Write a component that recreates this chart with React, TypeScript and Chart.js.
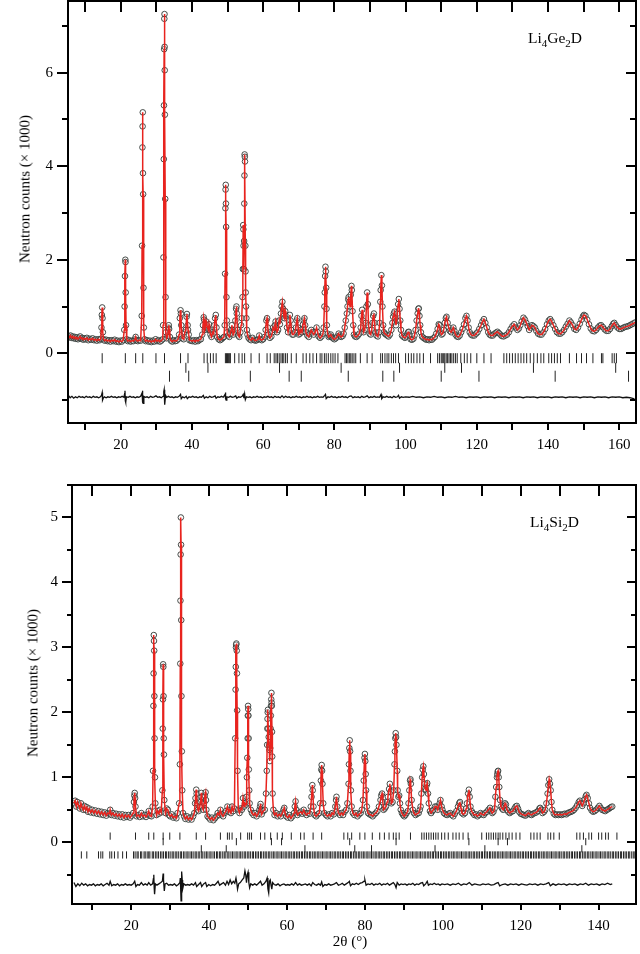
import React, { useEffect, useRef } from 'react';
import { Chart, registerables } from 'chart.js';

Chart.register(...registerables);

type P = [number, number];

// ---------------- Li4Ge2D (top panel) ----------------
const GE_OBS: P[] = [
  [5.3,0.37],[5.6,0.34],[5.9,0.38],[6.2,0.33],[6.5,0.36],[6.8,0.32],[7.1,0.35],[7.4,0.31],[7.7,0.34],[8.0,0.30],
  [8.3,0.33],[8.6,0.36],[8.9,0.31],[9.2,0.33],[9.5,0.29],[9.8,0.32],[10.1,0.30],[10.5,0.33],[10.9,0.28],[11.3,0.31],
  [11.7,0.29],[12.1,0.32],[12.5,0.28],[12.9,0.30],[13.3,0.27],[13.7,0.30],[14.1,0.28],[14.4,0.31],[14.6,0.55],[14.7,0.82],
  [14.8,0.98],[14.9,0.75],[15.0,0.45],[15.2,0.30],[15.5,0.27],[15.9,0.29],[16.3,0.26],[16.7,0.28],[17.1,0.25],[17.5,0.28],
  [17.9,0.26],[18.3,0.29],[18.7,0.25],[19.1,0.27],[19.5,0.24],[19.9,0.27],[20.3,0.25],[20.7,0.28],[21.0,0.5],[21.1,1.0],
  [21.2,1.65],[21.3,2.0],[21.35,1.95],[21.4,1.3],[21.5,0.6],[21.7,0.3],[22.0,0.26],[22.4,0.28],[22.8,0.25],[23.2,0.27],
  [23.6,0.26],[24.0,0.30],[24.2,0.35],[24.4,0.28],[24.8,0.26],[25.2,0.28],[25.6,0.27],[25.9,0.8],[26.0,2.3],[26.1,4.4],
  [26.15,4.85],[26.2,5.15],[26.25,3.85],[26.3,3.4],[26.4,1.4],[26.5,0.55],[26.7,0.3],[27.0,0.26],[27.4,0.28],[27.8,0.25],
  [28.2,0.27],[28.6,0.24],[29.0,0.27],[29.4,0.25],[29.8,0.30],[30.2,0.26],[30.6,0.28],[31.0,0.25],[31.4,0.27],[31.8,0.30],
  [31.9,0.6],[32.0,2.05],[32.1,4.15],[32.15,5.3],[32.2,6.5],[32.25,7.15],[32.3,7.25],[32.33,6.55],[32.36,6.05],[32.4,5.1],
  [32.5,3.3],[32.6,1.2],[32.7,0.45],[32.9,0.32],[33.2,0.38],[33.4,0.55],[33.5,0.6],[33.6,0.52],[33.8,0.35],[34.1,0.27],
  [34.5,0.25],[34.9,0.28],[35.3,0.26],[35.7,0.27],[36.1,0.30],[36.4,0.4],[36.6,0.75],[36.8,0.92],[36.9,0.85],[37.0,0.6],
  [37.3,0.32],[37.7,0.3],[38.0,0.45],[38.3,0.5],[38.5,0.78],[38.6,0.84],[38.8,0.6],[38.9,0.5],[39.1,0.4],[39.3,0.28],
  [39.7,0.27],[40.1,0.26],[40.5,0.28],[40.9,0.25],[41.3,0.28],[41.7,0.26],[42.1,0.29],[42.5,0.3],[42.9,0.4],[43.1,0.6],
  [43.3,0.77],[43.4,0.72],[43.6,0.5],[43.8,0.55],[44.0,0.68],[44.2,0.6],[44.4,0.55],[44.6,0.5],[44.8,0.62],[45.0,0.5],
  [45.2,0.4],[45.5,0.35],[45.8,0.45],[46.1,0.42],[46.3,0.6],[46.5,0.75],[46.7,0.82],[46.9,0.55],[47.1,0.35],[47.5,0.3],
  [47.9,0.28],[48.3,0.3],[48.7,0.33],[49.0,0.35],[49.2,0.6],[49.3,1.7],[49.4,3.1],[49.45,3.5],[49.5,3.6],[49.55,3.2],
  [49.6,2.7],[49.7,1.2],[49.8,0.7],[49.9,0.45],[50.2,0.38],[50.5,0.35],[50.8,0.42],[51.0,0.5],[51.2,0.6],[51.4,0.5],
  [51.6,0.4],[51.9,0.45],[52.2,0.7],[52.4,0.95],[52.5,1.0],[52.6,0.85],[52.8,0.5],[53.0,0.38],[53.3,0.35],[53.6,0.45],
  [53.8,0.6],[54.0,0.75],[54.2,1.2],[54.3,1.8],[54.4,2.74],[54.45,2.65],[54.5,2.3],[54.6,1.8],[54.65,2.4],[54.7,3.2],
  [54.75,3.8],[54.8,4.25],[54.85,4.2],[54.9,4.1],[55.0,2.3],[55.05,1.75],[55.1,1.3],[55.2,1.0],[55.3,0.75],[55.45,0.5],
  [55.6,0.4],[55.9,0.33],[56.2,0.3],[56.6,0.28],[57.0,0.33],[57.4,0.29],[57.8,0.27],[58.2,0.28],[58.6,0.3],[58.9,0.38],
  [59.2,0.3],[59.6,0.28],[60.0,0.3],[60.4,0.35],[60.7,0.5],[60.9,0.7],[61.1,0.75],[61.3,0.55],[61.5,0.4],[61.9,0.33],
  [62.3,0.36],[62.6,0.45],[62.8,0.55],[63.1,0.5],[63.3,0.6],[63.5,0.68],[63.7,0.55],[63.9,0.45],[64.2,0.5],[64.5,0.7],
  [64.7,0.62],[65.0,0.85],[65.2,1.0],[65.4,1.1],[65.6,0.95],[65.8,0.8],[66.0,0.75],[66.2,0.9],[66.4,0.8],[66.7,0.55],
  [67.0,0.45],[67.3,0.6],[67.5,0.82],[67.7,0.7],[67.9,0.5],[68.2,0.4],[68.5,0.4],[68.9,0.45],[69.2,0.55],[69.4,0.7],
  [69.6,0.75],[69.8,0.55],[70.0,0.4],[70.3,0.42],[70.6,0.5],[70.9,0.45],[71.2,0.62],[71.4,0.7],[71.6,0.75],[71.8,0.6],
  [72.0,0.45],[72.4,0.38],[72.8,0.35],[73.1,0.42],[73.5,0.5],[73.8,0.45],[74.2,0.4],[74.6,0.45],[75.0,0.55],[75.3,0.45],
  [75.6,0.36],[76.0,0.33],[76.4,0.36],[76.8,0.42],[77.0,0.55],[77.2,1.0],[77.3,1.3],[77.4,1.65],[77.5,1.85],[77.6,1.75],
  [77.7,1.4],[77.8,0.95],[77.9,0.6],[78.1,0.42],[78.4,0.35],[78.7,0.37],[79.0,0.4],[79.3,0.35],[79.6,0.32],[80.0,0.3],
  [80.4,0.32],[80.8,0.36],[81.2,0.42],[81.5,0.38],[81.9,0.35],[82.3,0.37],[82.6,0.42],[82.9,0.55],[83.2,0.7],[83.5,0.85],
  [83.7,1.0],[83.9,1.15],[84.0,1.2],[84.2,1.1],[84.4,1.0],[84.6,1.25],[84.8,1.44],[84.9,1.35],[85.1,0.9],[85.3,0.6],
  [85.5,0.4],[85.8,0.36],[86.2,0.35],[86.6,0.38],[87.0,0.42],[87.4,0.55],[87.6,0.8],[87.8,0.93],[88.0,0.7],[88.2,0.45],
  [88.5,0.5],[88.8,0.65],[89.0,1.0],[89.2,1.3],[89.4,1.05],[89.6,0.6],[89.9,0.42],[90.2,0.4],[90.5,0.5],[90.7,0.65],
  [90.9,0.8],[91.1,0.85],[91.3,0.65],[91.5,0.45],[91.8,0.38],[92.2,0.36],[92.5,0.45],[92.7,0.65],[92.9,1.1],[93.0,1.35],
  [93.2,1.67],[93.35,1.45],[93.5,1.0],[93.7,0.6],[93.9,0.45],[94.2,0.42],[94.5,0.4],[94.9,0.38],[95.2,0.36],[95.6,0.4],
  [96.0,0.5],[96.3,0.65],[96.5,0.78],[96.7,0.85],[96.9,0.89],[97.1,0.75],[97.3,0.6],[97.5,0.7],[97.7,0.85],[97.9,1.05],
  [98.1,1.16],[98.3,0.95],[98.5,0.7],[98.7,0.5],[99.0,0.38],[99.4,0.35],[99.8,0.33],[100.2,0.36],[100.5,0.42],[100.7,0.45],
  [100.9,0.46],[101.1,0.38],[101.4,0.3],[101.8,0.29],[102.2,0.31],[102.5,0.38],[102.8,0.5],[103.1,0.7],[103.4,0.85],[103.6,0.95],
  [103.7,0.96],[103.9,0.8],[104.1,0.6],[104.3,0.45],[104.6,0.36],[105.0,0.33],[105.4,0.31],[105.8,0.29],[106.2,0.3],[106.6,0.28],
  [107.0,0.3],[107.4,0.29],[107.8,0.32],[108.2,0.35],[108.6,0.42],[109.0,0.52],[109.3,0.62],[109.5,0.6],[109.8,0.45],[110.1,0.4],
  [110.4,0.42],[110.7,0.5],[111.0,0.65],[111.3,0.75],[111.5,0.78],[111.8,0.65],[112.1,0.55],[112.4,0.48],[112.8,0.45],[113.1,0.5],
  [113.4,0.55],[113.7,0.48],[114.0,0.4],[114.4,0.36],[114.8,0.35],[115.2,0.38],[115.6,0.45],[116.0,0.52],[116.4,0.62],[116.8,0.75],
  [117.1,0.8],[117.4,0.7],[117.7,0.55],[118.0,0.45],[118.4,0.4],[118.8,0.38],[119.3,0.38],[119.8,0.42],[120.2,0.45],[120.7,0.52],
  [121.2,0.6],[121.6,0.68],[122.0,0.73],[122.4,0.65],[122.8,0.55],[123.2,0.45],[123.6,0.4],[124.0,0.38],[124.5,0.38],[125.0,0.42],
  [125.4,0.44],[125.8,0.46],[126.2,0.43],[126.6,0.4],[127.0,0.37],[127.5,0.36],[128.0,0.38],[128.5,0.4],[129.0,0.45],[129.5,0.52],
  [130.0,0.58],[130.5,0.62],[131.0,0.55],[131.4,0.5],[131.8,0.53],[132.2,0.6],[132.6,0.68],[133.1,0.76],[133.5,0.72],[133.9,0.65],
  [134.3,0.58],[134.7,0.5],[135.1,0.55],[135.5,0.6],[135.9,0.58],[136.3,0.55],[136.7,0.48],[137.2,0.42],[137.7,0.4],[138.2,0.4],
  [138.7,0.45],[139.2,0.52],[139.7,0.62],[140.2,0.7],[140.6,0.73],[141.0,0.68],[141.5,0.6],[142.0,0.52],[142.5,0.45],[143.0,0.42],
  [143.5,0.42],[144.0,0.45],[144.5,0.5],[145.0,0.57],[145.5,0.63],[146.0,0.7],[146.4,0.66],[146.9,0.6],[147.4,0.52],[147.9,0.5],
  [148.4,0.55],[148.9,0.63],[149.4,0.72],[149.8,0.79],[150.1,0.82],[150.5,0.8],[151.0,0.72],[151.5,0.62],[152.0,0.53],[152.5,0.48],
  [153.0,0.47],[153.5,0.5],[154.0,0.55],[154.5,0.59],[154.9,0.6],[155.4,0.56],[155.9,0.51],[156.4,0.48],[156.9,0.48],[157.4,0.52],
  [157.9,0.58],[158.3,0.63],[158.6,0.65],[159.0,0.6],[159.5,0.55],[160.0,0.52],[160.5,0.52],[161.0,0.54],[161.5,0.56],[162.0,0.57],
  [162.5,0.58],[163.0,0.6],[163.5,0.62],[164.0,0.64],[164.5,0.66],
];

const GE_DIFF: P[] = [
  [5.3,-0.9],[5.8,-0.95],[6.3,-0.92],[6.8,-0.96],[7.3,-0.93],[7.8,-0.95],[8.3,-0.92],[8.8,-0.94],[9.3,-0.93],[9.8,-0.95],
  [10.3,-0.92],[10.8,-0.94],[11.3,-0.93],[11.8,-0.95],[12.3,-0.92],[12.8,-0.94],[13.3,-0.93],[13.8,-0.95],[14.3,-0.93],[14.6,-0.9],
  [14.8,-0.84],[14.9,-1.0],[15.1,-0.96],[15.4,-0.93],[15.9,-0.95],[16.4,-0.93],[16.9,-0.94],[17.4,-0.92],[17.9,-0.94],[18.4,-0.93],
  [18.9,-0.95],[19.4,-0.93],[19.9,-0.94],[20.4,-0.92],[20.9,-0.94],[21.1,-0.86],[21.2,-0.8],[21.3,-1.02],[21.4,-1.05],[21.6,-0.93],
  [22.1,-0.94],[22.6,-0.92],[23.1,-0.94],[23.6,-0.93],[24.1,-0.95],[24.6,-0.93],[25.1,-0.94],[25.6,-0.92],[26.0,-0.85],[26.1,-0.8],
  [26.2,-1.05],[26.3,-1.07],[26.5,-0.92],[26.9,-0.94],[27.4,-0.93],[27.9,-0.95],[28.4,-0.92],[28.9,-0.94],[29.4,-0.93],[29.9,-0.91],
  [30.4,-0.94],[30.9,-0.93],[31.4,-0.95],[31.9,-0.92],[32.1,-0.82],[32.2,-0.78],[32.3,-1.05],[32.4,-1.1],[32.6,-0.9],[32.9,-0.94],
  [33.4,-0.92],[33.9,-0.94],[34.4,-0.93],[34.9,-0.95],[35.4,-0.93],[35.9,-0.94],[36.4,-0.92],[36.8,-0.88],[37.0,-0.97],[37.4,-0.93],
  [37.9,-0.95],[38.4,-0.92],[38.7,-0.97],[39.2,-0.93],[39.7,-0.94],[40.2,-0.92],[40.7,-0.94],[41.2,-0.93],[41.7,-0.95],[42.2,-0.93],
  [42.7,-0.94],[43.2,-0.9],[43.5,-0.96],[44.0,-0.93],[44.5,-0.95],[45.0,-0.92],[45.5,-0.94],[46.0,-0.93],[46.5,-0.91],[46.8,-0.96],
  [47.3,-0.93],[47.8,-0.94],[48.3,-0.92],[48.8,-0.94],[49.3,-0.88],[49.4,-0.84],[49.5,-0.97],[49.6,-1.0],[49.8,-0.93],[50.3,-0.94],
  [50.8,-0.92],[51.3,-0.94],[51.8,-0.93],[52.3,-0.91],[52.6,-0.96],[53.1,-0.93],[53.6,-0.94],[54.1,-0.92],[54.4,-0.88],[54.6,-0.96],
  [54.8,-0.87],[55.0,-0.99],[55.3,-0.93],[55.8,-0.94],[56.3,-0.93],[56.8,-0.95],[57.3,-0.93],[57.8,-0.94],[58.3,-0.92],[58.8,-0.94],
  [59.3,-0.93],[59.8,-0.95],[60.3,-0.93],[60.8,-0.94],[61.3,-0.92],[61.8,-0.94],[62.3,-0.93],[62.8,-0.95],[63.3,-0.92],[63.8,-0.94],
  [64.3,-0.93],[64.8,-0.95],[65.3,-0.91],[65.8,-0.95],[66.3,-0.92],[66.8,-0.94],[67.3,-0.93],[67.8,-0.95],[68.3,-0.93],[68.8,-0.94],
  [69.3,-0.92],[69.8,-0.94],[70.3,-0.93],[70.8,-0.95],[71.3,-0.93],[71.8,-0.94],[72.3,-0.92],[72.8,-0.94],[73.3,-0.93],[73.8,-0.95],
  [74.3,-0.93],[74.8,-0.94],[75.3,-0.92],[75.8,-0.94],[76.3,-0.93],[76.8,-0.94],[77.3,-0.9],[77.5,-0.88],[77.7,-0.97],[78.2,-0.93],
  [78.7,-0.94],[79.2,-0.92],[79.7,-0.94],[80.2,-0.93],[80.7,-0.95],[81.2,-0.93],[81.7,-0.94],[82.2,-0.92],[82.7,-0.94],[83.2,-0.93],
  [83.7,-0.95],[84.2,-0.92],[84.7,-0.91],[85.2,-0.95],[85.7,-0.93],[86.2,-0.94],[86.7,-0.93],[87.2,-0.95],[87.7,-0.92],[88.2,-0.94],
  [88.7,-0.93],[89.2,-0.91],[89.7,-0.95],[90.2,-0.93],[90.7,-0.94],[91.2,-0.92],[91.7,-0.94],[92.2,-0.93],[92.7,-0.94],[93.1,-0.88],
  [93.3,-0.97],[93.7,-0.93],[94.2,-0.94],[94.7,-0.92],[95.2,-0.94],[95.7,-0.93],[96.2,-0.95],[96.7,-0.92],[97.2,-0.94],[97.7,-0.93],
  [98.0,-0.9],[98.3,-0.96],[98.8,-0.93],[99.3,-0.94],[100.0,-0.93],[101.0,-0.94],[102.0,-0.92],[103.0,-0.94],[104.0,-0.93],[105.0,-0.95],
  [106.0,-0.93],[107.0,-0.94],[108.0,-0.92],[109.0,-0.94],[110.0,-0.93],[111.0,-0.95],[112.0,-0.93],[113.0,-0.94],[114.0,-0.92],[115.0,-0.94],
  [116.0,-0.93],[117.0,-0.95],[118.0,-0.93],[119.0,-0.94],[120.0,-0.93],[121.0,-0.95],[122.0,-0.93],[123.0,-0.94],[124.0,-0.93],[125.0,-0.95],
  [126.0,-0.93],[127.0,-0.94],[128.0,-0.93],[129.0,-0.95],[130.0,-0.93],[131.0,-0.94],[132.0,-0.93],[133.0,-0.95],[134.0,-0.93],[135.0,-0.94],
  [136.0,-0.93],[137.0,-0.95],[138.0,-0.93],[139.0,-0.94],[140.0,-0.93],[141.0,-0.95],[142.0,-0.93],[143.0,-0.94],[144.0,-0.93],[145.0,-0.95],
  [146.0,-0.93],[147.0,-0.94],[148.0,-0.93],[149.0,-0.95],[150.0,-0.93],[151.0,-0.94],[152.0,-0.93],[153.0,-0.95],[154.0,-0.93],[155.0,-0.94],
  [156.0,-0.93],[157.0,-0.95],[158.0,-0.93],[159.0,-0.94],[160.0,-0.93],[161.0,-0.95],[162.0,-0.94],[163.0,-0.95],[164.0,-0.97],[164.5,-1.0],
];

// Bragg reflection positions (2θ) per row
const GE_HKL_1: number[] = [
  14.8,21.3,24.2,26.2,29.9,32.3,36.8,38.9,43.4,44.3,45.2,46.0,46.8,49.4,49.7,50.0,50.3,50.6,50.8,52.0,
  53.2,54.1,54.8,56.6,58.9,61.1,62.0,63.1,63.6,64.0,64.5,65.0,65.4,65.8,66.3,66.8,67.9,69.3,71.2,72.1,
  73.1,74.0,75.0,76.0,76.5,77.2,77.7,78.3,79.0,79.6,80.2,81.0,83.0,83.4,83.8,84.2,84.6,85.0,85.5,86.0,
  87.3,89.2,90.6,93.0,93.5,94.2,94.8,95.3,96.0,96.6,97.2,98.0,100.0,100.8,101.6,102.3,103.2,104.0,105.0,107.0,
  109.0,109.5,110.0,110.3,110.7,111.0,111.4,111.8,112.2,112.6,113.0,113.5,114.0,114.5,115.5,116.5,117.3,118.3,120.0,122.0,
  124.0,127.6,128.4,129.2,130.0,130.8,131.6,132.4,133.2,134.0,135.0,136.0,137.0,138.0,138.8,140.2,141.0,141.8,142.6,143.5,
  146.0,148.0,149.4,150.8,152.6,155.0,155.4,158.0,158.6,159.2,
];
const GE_HKL_2: number[] = [38.3,44.5,64.6,81.9,98.3,111.0,115.7,135.9,159.0];
const GE_HKL_3: number[] = [33.7,39.1,56.4,67.3,70.7,83.9,93.6,96.7,110.0,120.6,142.0,162.6];
const GE_ROW_Y: number[] = [-0.105, -0.31, -0.49];

// ---------------- Li4Si2D (bottom panel) ----------------
const SI_OBS: P[] = [
  [5.3,0.6],[5.6,0.64],[5.9,0.55],[6.2,0.62],[6.5,0.57],[6.8,0.52],[7.1,0.6],[7.4,0.54],[7.7,0.5],[8.0,0.56],
  [8.3,0.5],[8.6,0.54],[8.9,0.47],[9.2,0.52],[9.6,0.46],[10.0,0.5],[10.4,0.45],[10.8,0.49],[11.2,0.44],[11.6,0.48],
  [12.0,0.43],[12.4,0.47],[12.8,0.42],[13.2,0.46],[13.6,0.41],[14.0,0.45],[14.4,0.44],[14.6,0.5],[14.9,0.42],[15.3,0.45],
  [15.7,0.41],[16.1,0.44],[16.5,0.4],[16.9,0.43],[17.3,0.39],[17.7,0.43],[18.1,0.38],[18.5,0.42],[18.9,0.39],[19.3,0.42],
  [19.7,0.38],[20.1,0.41],[20.5,0.45],[20.7,0.62],[20.8,0.72],[20.9,0.76],[21.0,0.68],[21.1,0.55],[21.4,0.4],[21.8,0.42],
  [22.2,0.39],[22.6,0.45],[23.0,0.4],[23.4,0.42],[23.8,0.39],[24.2,0.43],[24.5,0.48],[24.8,0.41],[25.2,0.4],[25.5,0.55],
  [25.6,1.1],[25.7,2.1],[25.75,2.6],[25.8,3.19],[25.85,3.1],[25.9,2.95],[25.95,2.25],[26.0,1.6],[26.1,1.0],[26.2,0.6],
  [26.5,0.42],[26.8,0.48],[27.1,0.44],[27.4,0.5],[27.7,0.46],[28.0,0.8],[28.1,1.75],[28.15,2.2],[28.2,2.74],[28.25,2.7],
  [28.3,2.25],[28.35,1.6],[28.4,1.35],[28.5,0.65],[28.8,0.45],[29.1,0.52],[29.4,0.5],[29.7,0.42],[30.0,0.4],[30.4,0.43],
  [30.8,0.38],[31.2,0.4],[31.6,0.37],[31.9,0.45],[32.3,0.6],[32.5,1.2],[32.6,2.75],[32.65,3.72],[32.7,4.43],[32.75,5.0],
  [32.8,4.58],[32.85,3.42],[32.9,2.25],[33.0,1.4],[33.1,0.8],[33.3,0.45],[33.6,0.4],[33.9,0.36],[34.3,0.4],[34.7,0.35],
  [35.1,0.38],[35.5,0.35],[35.9,0.4],[36.2,0.45],[36.4,0.6],[36.5,0.68],[36.7,0.81],[36.8,0.75],[36.9,0.6],[37.1,0.5],
  [37.3,0.48],[37.6,0.55],[37.8,0.62],[38.0,0.76],[38.1,0.7],[38.2,0.55],[38.5,0.5],[38.7,0.6],[38.9,0.72],[39.1,0.77],
  [39.2,0.65],[39.3,0.5],[39.6,0.4],[39.9,0.38],[40.3,0.35],[40.7,0.38],[41.1,0.34],[41.5,0.37],[41.9,0.4],[42.2,0.45],
  [42.6,0.42],[42.9,0.5],[43.2,0.43],[43.6,0.4],[44.0,0.45],[44.3,0.48],[44.7,0.55],[45.0,0.47],[45.2,0.5],[45.6,0.45],
  [45.9,0.55],[46.2,0.48],[46.5,0.52],[46.7,1.6],[46.8,2.35],[46.85,2.7],[46.9,3.0],[46.95,3.04],[47.0,3.06],[47.1,2.95],
  [47.15,2.6],[47.2,2.03],[47.3,1.1],[47.5,0.5],[47.8,0.45],[48.1,0.52],[48.4,0.5],[48.7,0.68],[49.0,0.55],[49.2,0.6],
  [49.5,0.58],[49.6,0.7],[49.7,1.0],[49.8,1.3],[49.9,1.6],[49.95,1.95],[50.0,2.1],[50.05,2.05],[50.1,1.95],[50.15,1.6],
  [50.2,1.12],[50.3,0.8],[50.4,0.6],[50.7,0.5],[51.0,0.45],[51.4,0.42],[51.8,0.45],[52.2,0.4],[52.6,0.44],[52.9,0.5],
  [53.1,0.55],[53.2,0.59],[53.3,0.5],[53.5,0.43],[53.9,0.48],[54.3,0.5],[54.6,0.75],[54.8,1.1],[54.9,1.5],[54.95,1.75],
  [55.0,1.9],[55.05,2.0],[55.1,2.04],[55.2,1.75],[55.3,1.62],[55.4,1.5],[55.5,1.42],[55.6,1.25],[55.7,1.45],[55.8,1.75],
  [55.85,1.95],[55.9,2.1],[55.95,2.2],[56.0,2.3],[56.05,2.15],[56.1,2.1],[56.15,1.7],[56.2,1.32],[56.3,0.75],[56.5,0.5],
  [56.8,0.42],[57.2,0.45],[57.6,0.4],[58.0,0.43],[58.4,0.4],[58.8,0.45],[59.1,0.5],[59.3,0.53],[59.5,0.45],[59.8,0.4],
  [60.2,0.38],[60.6,0.42],[61.0,0.37],[61.4,0.4],[61.8,0.45],[62.0,0.55],[62.2,0.63],[62.4,0.5],[62.7,0.42],[63.1,0.45],
  [63.5,0.47],[63.9,0.44],[64.3,0.5],[64.6,0.45],[65.0,0.42],[65.4,0.45],[65.8,0.44],[66.1,0.55],[66.3,0.7],[66.5,0.88],
  [66.6,0.8],[66.8,0.55],[67.1,0.42],[67.5,0.4],[67.9,0.43],[68.3,0.45],[68.5,0.6],[68.7,0.95],[68.8,1.12],[68.9,1.19],
  [69.0,1.1],[69.1,0.9],[69.3,0.6],[69.6,0.45],[70.0,0.42],[70.4,0.4],[70.8,0.43],[71.2,0.4],[71.6,0.45],[72.0,0.43],
  [72.4,0.55],[72.6,0.65],[72.7,0.7],[72.9,0.55],[73.2,0.45],[73.6,0.42],[74.0,0.45],[74.4,0.42],[74.8,0.47],[75.2,0.5],
  [75.5,0.6],[75.8,0.9],[75.9,1.2],[76.0,1.45],[76.1,1.57],[76.2,1.4],[76.3,1.1],[76.4,0.8],[76.6,0.55],[76.9,0.45],
  [77.3,0.42],[77.7,0.45],[78.1,0.4],[78.5,0.43],[78.9,0.45],[79.2,0.5],[79.5,0.65],[79.7,0.95],[79.9,1.3],[80.0,1.36],
  [80.1,1.25],[80.2,1.05],[80.3,0.8],[80.5,0.55],[80.8,0.45],[81.2,0.43],[81.6,0.42],[82.0,0.4],[82.4,0.43],[82.8,0.45],
  [83.2,0.48],[83.6,0.55],[84.0,0.65],[84.2,0.72],[84.4,0.75],[84.6,0.62],[84.8,0.5],[85.1,0.52],[85.4,0.55],[85.7,0.62],
  [85.9,0.7],[86.2,0.82],[86.4,0.9],[86.6,0.78],[86.8,0.6],[87.1,0.62],[87.4,0.8],[87.6,1.2],[87.7,1.4],[87.8,1.6],
  [87.9,1.68],[88.0,1.62],[88.1,1.5],[88.3,1.1],[88.4,0.8],[88.6,0.7],[88.8,0.72],[89.0,0.6],[89.2,0.5],[89.5,0.45],
  [89.8,0.42],[90.1,0.4],[90.4,0.42],[90.7,0.45],[91.0,0.48],[91.2,0.6],[91.4,0.8],[91.6,0.95],[91.7,0.97],[91.8,0.9],
  [92.0,0.65],[92.3,0.5],[92.6,0.45],[93.0,0.42],[93.4,0.44],[93.8,0.45],[94.1,0.5],[94.3,0.55],[94.5,0.75],[94.7,1.0],
  [94.85,1.12],[95.0,1.17],[95.15,1.05],[95.3,0.9],[95.5,0.82],[95.7,0.8],[95.85,0.88],[96.0,0.91],[96.2,0.75],[96.4,0.6],
  [96.7,0.48],[97.0,0.45],[97.3,0.48],[97.6,0.5],[98.0,0.55],[98.4,0.55],[98.7,0.5],[98.9,0.55],[99.2,0.6],[99.4,0.65],
  [99.7,0.55],[99.9,0.5],[100.3,0.45],[100.7,0.43],[101.1,0.42],[101.5,0.44],[101.9,0.45],[102.3,0.42],[102.7,0.4],[103.1,0.44],
  [103.5,0.48],[103.9,0.55],[104.2,0.6],[104.4,0.62],[104.7,0.52],[104.9,0.45],[105.3,0.43],[105.7,0.45],[106.0,0.52],[106.2,0.6],
  [106.5,0.75],[106.7,0.81],[106.9,0.7],[107.1,0.55],[107.4,0.48],[107.7,0.45],[108.1,0.42],[108.5,0.43],[108.9,0.4],[109.3,0.42],
  [109.7,0.45],[110.1,0.43],[110.5,0.42],[110.9,0.45],[111.3,0.47],[111.7,0.5],[112.1,0.53],[112.4,0.48],[112.7,0.45],[113.0,0.47],
  [113.3,0.52],[113.5,0.7],[113.7,0.85],[113.9,1.0],[114.0,1.05],[114.1,1.09],[114.2,1.1],[114.35,1.0],[114.5,0.85],[114.7,0.65],
  [114.9,0.55],[115.2,0.52],[115.5,0.5],[115.8,0.56],[116.0,0.6],[116.2,0.58],[116.5,0.5],[116.8,0.47],[117.2,0.45],[117.6,0.47],
  [118.0,0.48],[118.4,0.52],[118.7,0.55],[119.0,0.56],[119.3,0.52],[119.6,0.47],[120.0,0.44],[120.4,0.43],[120.8,0.42],[121.2,0.41],
  [121.6,0.43],[122.0,0.45],[122.4,0.43],[122.8,0.42],[123.2,0.44],[123.6,0.45],[124.0,0.46],[124.4,0.48],[124.8,0.52],[125.0,0.53],
  [125.3,0.5],[125.6,0.45],[126.0,0.47],[126.3,0.5],[126.6,0.6],[126.9,0.75],[127.1,0.88],[127.3,0.97],[127.5,0.9],[127.7,0.8],
  [127.9,0.62],[128.1,0.5],[128.5,0.44],[128.9,0.42],[129.3,0.43],[129.7,0.42],[130.1,0.43],[130.5,0.42],[130.9,0.43],[131.3,0.44],
  [131.7,0.43],[132.1,0.45],[132.5,0.46],[132.9,0.47],[133.3,0.48],[133.7,0.5],[134.1,0.53],[134.5,0.57],[134.9,0.62],[135.2,0.64],
  [135.5,0.6],[135.8,0.56],[136.1,0.6],[136.4,0.66],[136.7,0.71],[136.9,0.73],[137.2,0.68],[137.5,0.6],[137.8,0.53],[138.2,0.49],
  [138.6,0.47],[139.0,0.48],[139.4,0.5],[139.8,0.53],[140.2,0.56],[140.5,0.53],[140.9,0.5],[141.3,0.49],[141.7,0.48],[142.1,0.5],
  [142.5,0.51],[142.9,0.53],[143.2,0.54],[143.5,0.55],
];

const SI_DIFF: P[] = [
  [5.3,-0.62],[5.8,-0.68],[6.3,-0.64],[6.8,-0.67],[7.3,-0.63],[7.8,-0.66],[8.3,-0.64],[8.8,-0.67],[9.3,-0.65],[9.8,-0.66],
  [10.3,-0.64],[10.8,-0.67],[11.3,-0.65],[11.8,-0.66],[12.3,-0.64],[12.8,-0.67],[13.3,-0.65],[13.8,-0.63],[14.3,-0.66],[14.6,-0.6],
  [15.0,-0.67],[15.5,-0.65],[16.0,-0.66],[16.5,-0.64],[17.0,-0.67],[17.5,-0.65],[18.0,-0.66],[18.5,-0.64],[19.0,-0.66],[19.5,-0.65],
  [20.0,-0.66],[20.5,-0.64],[20.9,-0.6],[21.2,-0.68],[21.6,-0.65],[22.1,-0.66],[22.6,-0.62],[23.1,-0.66],[23.6,-0.64],[24.1,-0.66],
  [24.5,-0.62],[25.0,-0.66],[25.5,-0.64],[25.7,-0.56],[25.8,-0.5],[25.9,-0.7],[26.0,-0.8],[26.2,-0.64],[26.6,-0.66],[27.1,-0.64],
  [27.6,-0.62],[28.0,-0.6],[28.2,-0.48],[28.3,-0.58],[28.5,-0.75],[28.7,-0.64],[29.1,-0.63],[29.6,-0.66],[30.1,-0.65],[30.6,-0.66],
  [31.1,-0.64],[31.6,-0.67],[32.1,-0.65],[32.5,-0.62],[32.6,-0.55],[32.7,-0.72],[32.8,-0.9],[32.9,-0.7],[33.0,-0.45],[33.1,-0.58],
  [33.2,-0.72],[33.5,-0.64],[34.0,-0.66],[34.5,-0.65],[35.0,-0.66],[35.5,-0.64],[36.0,-0.66],[36.5,-0.62],[36.8,-0.68],[37.3,-0.65],
  [37.8,-0.62],[38.1,-0.68],[38.6,-0.64],[39.1,-0.62],[39.4,-0.68],[39.9,-0.65],[40.4,-0.67],[40.9,-0.65],[41.4,-0.66],[41.9,-0.63],
  [42.3,-0.6],[42.7,-0.66],[43.2,-0.64],[43.7,-0.62],[44.2,-0.66],[44.6,-0.6],[45.0,-0.65],[45.4,-0.58],[45.8,-0.64],[46.2,-0.6],
  [46.6,-0.63],[46.9,-0.55],[47.1,-0.62],[47.3,-0.72],[47.6,-0.64],[48.0,-0.62],[48.5,-0.58],[48.9,-0.55],[49.2,-0.44],[49.4,-0.5],
  [49.6,-0.62],[49.8,-0.5],[50.0,-0.46],[50.2,-0.62],[50.4,-0.7],[50.7,-0.64],[51.2,-0.66],[51.7,-0.64],[52.2,-0.66],[52.7,-0.63],
  [53.2,-0.6],[53.6,-0.66],[54.1,-0.64],[54.6,-0.6],[54.9,-0.55],[55.1,-0.72],[55.3,-0.78],[55.5,-0.6],[55.7,-0.58],[55.9,-0.66],
  [56.1,-0.72],[56.3,-0.62],[56.7,-0.65],[57.2,-0.66],[57.7,-0.64],[58.2,-0.67],[58.7,-0.65],[59.2,-0.64],[59.7,-0.66],[60.2,-0.65],
  [60.7,-0.66],[61.2,-0.64],[61.7,-0.66],[62.2,-0.62],[62.7,-0.66],[63.2,-0.64],[63.7,-0.66],[64.2,-0.65],[64.7,-0.64],[65.2,-0.66],
  [65.7,-0.64],[66.2,-0.67],[66.6,-0.62],[67.1,-0.65],[67.6,-0.66],[68.1,-0.64],[68.6,-0.66],[68.9,-0.61],[69.2,-0.68],[69.7,-0.65],
  [70.2,-0.66],[70.7,-0.64],[71.2,-0.66],[71.7,-0.65],[72.2,-0.64],[72.7,-0.62],[73.2,-0.66],[73.7,-0.65],[74.2,-0.63],[74.7,-0.66],
  [75.2,-0.64],[75.7,-0.62],[76.0,-0.6],[76.3,-0.67],[76.8,-0.64],[77.3,-0.65],[77.8,-0.63],[78.3,-0.65],[78.8,-0.63],[79.3,-0.62],
  [79.8,-0.6],[80.0,-0.58],[80.3,-0.66],[80.8,-0.64],[81.3,-0.65],[81.8,-0.63],[82.3,-0.66],[82.8,-0.64],[83.3,-0.65],[83.8,-0.63],
  [84.3,-0.66],[84.8,-0.64],[85.3,-0.65],[85.8,-0.63],[86.3,-0.66],[86.8,-0.64],[87.3,-0.62],[87.7,-0.65],[88.0,-0.7],[88.3,-0.62],
  [88.8,-0.66],[89.3,-0.64],[89.8,-0.65],[90.3,-0.64],[90.8,-0.66],[91.3,-0.64],[91.8,-0.65],[92.3,-0.63],[92.8,-0.66],[93.3,-0.64],
  [93.8,-0.65],[94.3,-0.63],[94.8,-0.62],[95.1,-0.67],[95.6,-0.64],[96.0,-0.6],[96.3,-0.66],[96.8,-0.64],[97.3,-0.65],[97.8,-0.63],
  [98.3,-0.65],[98.8,-0.64],[99.3,-0.66],[99.8,-0.64],[100.5,-0.65],[101.2,-0.64],[101.9,-0.66],[102.6,-0.64],[103.3,-0.65],[104.0,-0.63],
  [104.7,-0.66],[105.4,-0.64],[106.1,-0.65],[106.8,-0.62],[107.5,-0.66],[108.2,-0.64],[108.9,-0.65],[109.6,-0.66],[110.3,-0.64],[111.0,-0.65],
  [111.7,-0.64],[112.4,-0.66],[113.1,-0.65],[113.8,-0.63],[114.2,-0.62],[114.6,-0.67],[115.3,-0.65],[116.0,-0.64],[116.7,-0.66],[117.4,-0.64],
  [118.1,-0.65],[118.8,-0.64],[119.5,-0.66],[120.2,-0.64],[120.9,-0.65],[121.6,-0.66],[122.3,-0.64],[123.0,-0.65],[123.7,-0.64],[124.4,-0.66],
  [125.1,-0.64],[125.8,-0.65],[126.5,-0.64],[127.2,-0.62],[127.6,-0.67],[128.3,-0.64],[129.0,-0.66],[129.7,-0.64],[130.4,-0.65],[131.1,-0.64],
  [131.8,-0.66],[132.5,-0.64],[133.2,-0.65],[133.9,-0.64],[134.6,-0.66],[135.3,-0.64],[136.0,-0.65],[136.7,-0.63],[137.4,-0.66],[138.1,-0.64],
  [138.8,-0.65],[139.5,-0.64],[140.2,-0.66],[140.9,-0.64],[141.6,-0.65],[142.3,-0.63],[143.0,-0.65],[143.5,-0.64],
];

const SI_HKL_1: number[] = [
  14.6,21.1,24.5,25.8,28.2,29.9,32.5,36.7,39.1,42.9,44.7,45.2,45.9,48.1,49.9,50.4,50.9,53.2,54.3,55.8,
  57.5,58.8,61.1,63.5,64.4,66.7,68.9,74.6,75.6,76.6,78.7,80.0,81.9,83.8,85.0,86.2,87.3,88.0,88.8,91.7,
  94.6,95.2,95.8,96.4,97.0,97.6,98.2,98.8,99.7,100.5,101.4,102.6,103.4,104.2,105.2,106.5,110.0,111.2,111.8,112.4,
  113.0,113.6,114.2,114.7,115.4,116.2,117.0,117.8,118.8,119.8,122.6,123.4,124.2,125.0,127.0,127.7,128.5,129.9,134.4,135.2,
  136.1,137.5,138.2,140.0,140.8,141.8,142.5,144.7,
];
const SI_HKL_2: number[] = [28.2,47.0,56.0,58.6,76.1,88.0,106.7,114.2,116.6,136.7];
const SI_HKL_3: number[] = [38.0,44.4,64.6,77.4,81.7,98.0,110.8,135.7];
const SI_HKL_4: number[] = [
  7.2,8.6,11.6,12.2,12.7,14.5,15.0,15.7,16.6,17.8,18.8,20.6,21.0,21.5,21.8,22.4,22.7,23.3,23.6,24.1,
  24.5,24.8,25.4,25.7,26.2,26.6,27.0,27.5,27.9,28.3,28.8,29.1,29.6,30.0,30.5,30.8,31.3,31.7,32.1,32.6,
  32.9,33.4,33.8,34.3,34.6,35.1,35.5,35.9,36.4,36.7,37.2,37.6,38.1,38.4,38.9,39.3,39.7,40.2,40.5,41.0,
  41.4,41.9,42.2,42.7,43.0,43.5,43.9,44.3,44.8,45.1,45.6,46.0,46.4,46.9,47.2,47.7,48.1,48.5,49.0,49.3,
  49.8,50.2,50.6,51.1,51.4,51.9,52.3,52.7,53.2,53.5,54.0,54.4,54.8,55.3,55.6,56.1,56.5,56.9,57.4,57.7,
  58.2,58.6,59.0,59.5,59.8,60.3,60.7,61.1,61.6,61.9,62.4,62.8,63.2,63.7,64.0,64.5,64.9,65.3,65.8,66.1,
  66.6,67.0,67.4,67.9,68.2,68.7,69.1,69.5,70.0,70.3,70.8,71.2,71.6,72.1,72.4,72.9,73.3,73.7,74.2,74.5,
  75.0,75.4,75.8,76.3,76.6,77.1,77.5,77.9,78.4,78.7,79.2,79.6,80.0,80.5,80.8,81.3,81.7,82.1,82.6,82.9,
  83.4,83.8,84.2,84.7,85.0,85.5,85.9,86.3,86.8,87.1,87.6,88.0,88.4,88.9,89.2,89.7,90.1,90.5,91.0,91.3,
  91.8,92.2,92.6,93.1,93.4,93.9,94.3,94.7,95.2,95.5,96.0,96.4,96.8,97.3,97.6,98.1,98.5,98.9,99.4,99.7,
  100.2,100.6,101.0,101.5,101.8,102.3,102.7,103.1,103.6,103.9,104.4,104.8,105.2,105.7,106.0,106.5,106.9,107.3,107.8,108.1,
  108.6,109.0,109.4,109.9,110.2,110.7,111.1,111.5,112.0,112.3,112.8,113.2,113.6,114.1,114.4,114.9,115.3,115.7,116.2,116.5,
  117.0,117.4,117.8,118.3,118.6,119.1,119.5,119.9,120.4,120.7,121.2,121.6,122.0,122.5,122.8,123.3,123.7,124.1,124.6,124.9,
  125.4,125.8,126.2,126.7,127.0,127.5,127.9,128.3,128.8,129.1,129.6,130.0,130.4,130.9,131.2,131.7,132.1,132.5,133.0,133.3,
  133.8,134.2,134.6,135.1,135.4,135.9,136.3,136.7,137.2,137.5,138.0,138.4,138.8,139.3,139.6,140.1,140.5,140.9,141.4,141.7,
  142.2,142.6,143.0,143.5,143.8,144.3,144.7,145.1,145.6,145.9,146.4,146.8,147.2,147.7,148.0,148.5,148.9,149.3,
];
const SI_ROW_Y: number[] = [0.095, 0.01, -0.1, -0.195];

const FONT = 'Liberation Serif, "Times New Roman", serif';
const RED = '#e8231e';

type Row = { pos: number[]; y: number; r: number };
type Panel = {
  obs: P[]; diff: P[]; rows: Row[];
  xMin: number; xMax: number; yMin: number; yMax: number; yStep: number;
  isMajorY: (v: number) => boolean;
  height: number; padTop: number; yW: number; xH: number; xPad: number; yPad: number;
  xOut: number; xIn: number; yOutMaj: number; yOutMin: number; yInMaj: number; yInMin: number;
};

const framePlugin = {
  id: 'frameTicks',
  afterDatasetsDraw(chart: any, _a: any, opts: any) {
    const { ctx, chartArea: a, scales } = chart;
    const x = scales.x, y = scales.y;
    ctx.save();
    ctx.strokeStyle = '#000';
    ctx.lineWidth = 2;
    ctx.lineCap = 'butt';
    ctx.strokeRect(a.left, a.top, a.right - a.left, a.bottom - a.top);
    ctx.beginPath();
    x.ticks.forEach((t: any) => {
      const px = Math.round(x.getPixelForValue(t.value));
      ctx.moveTo(px, a.bottom); ctx.lineTo(px, a.bottom + opts.xOut);
      ctx.moveTo(px, a.top); ctx.lineTo(px, a.top + opts.xIn);
    });
    y.ticks.forEach((t: any) => {
      const py = Math.round(y.getPixelForValue(t.value));
      const major = opts.isMajorY(t.value);
      ctx.moveTo(a.left - (major ? opts.yOutMaj : opts.yOutMin), py); ctx.lineTo(a.left, py);
      ctx.moveTo(a.right - (major ? opts.yInMaj : opts.yInMin), py); ctx.lineTo(a.right, py);
    });
    ctx.stroke();
    ctx.restore();
  },
};

function PanelChart({ p, top }: { p: Panel; top: number }) {
  const ref = useRef<HTMLCanvasElement | null>(null);
  useEffect(() => {
    if (!ref.current) return;
    const pts = (arr: P[]) => arr.map(([x, y]) => ({ x, y }));
    const datasets: any[] = [
      {
        label: 'calc', data: pts(p.obs), showLine: true, borderColor: RED, borderWidth: 1.5,
        pointRadius: 0, order: 0,
      },
      {
        label: 'obs', data: pts(p.obs), showLine: false, pointRadius: 2.8, pointBorderWidth: 1,
        pointBorderColor: 'rgba(50,58,54,0.9)', pointBackgroundColor: 'rgba(255,255,255,0.3)', order: 1,
      },
      {
        label: 'diff', data: pts(p.diff), showLine: true, borderColor: '#111', borderWidth: 1.3,
        pointRadius: 0, order: 2,
      },
      ...p.rows.map((r, i) => ({
        label: 'hkl' + i, data: r.pos.map((x) => ({ x, y: r.y })), showLine: false,
        pointStyle: 'line', rotation: 90, pointRadius: r.r, pointBorderWidth: 1,
        pointBorderColor: '#222', order: 3,
      })),
    ];
    const font = { family: FONT, size: 15 };
    const chart = new Chart(ref.current, {
      type: 'scatter',
      data: { datasets },
      plugins: [framePlugin],
      options: {
        animation: false,
        responsive: false,
        maintainAspectRatio: false,
        devicePixelRatio: 1,
        layout: { autoPadding: false, padding: { top: p.padTop, right: 4, left: 0, bottom: 0 } },
        plugins: {
          legend: { display: false }, tooltip: { enabled: false },
          frameTicks: p as any,
        } as any,
        scales: {
          x: {
            type: 'linear', position: 'bottom', min: p.xMin, max: p.xMax,
            grid: { display: false, drawTicks: false }, border: { display: false },
            ticks: {
              stepSize: 10, includeBounds: false, autoSkip: false, maxRotation: 0, minRotation: 0,
              padding: p.xPad, color: '#000', font,
              callback: (v: any) => (Number(v) % 20 === 0 ? String(v) : ''),
            },
            afterFit: (s: any) => { s.height = p.xH; s.paddingLeft = 0; s.paddingRight = 0; },
          },
          y: {
            type: 'linear', min: p.yMin, max: p.yMax,
            grid: { display: false, drawTicks: false }, border: { display: false },
            ticks: {
              stepSize: p.yStep, includeBounds: false, autoSkip: false, maxTicksLimit: 100,
              padding: p.yPad, color: '#000', font,
              callback: (v: any) => (p.isMajorY(Number(v)) ? String(v) : ''),
            },
            afterFit: (s: any) => { s.width = p.yW; s.paddingTop = 0; s.paddingBottom = 0; },
          },
        },
      } as any,
    });
    return () => chart.destroy();
  }, [p]);
  return (
    <canvas
      ref={ref}
      width={640}
      height={p.height}
      style={{ position: 'absolute', left: 0, top, width: 640, height: p.height }}
    />
  );
}

const TOP: Panel = {
  obs: GE_OBS, diff: GE_DIFF,
  rows: [
    { pos: GE_HKL_1, y: GE_ROW_Y[0], r: 5 },
    { pos: GE_HKL_2, y: GE_ROW_Y[1], r: 5 },
    { pos: GE_HKL_3, y: GE_ROW_Y[2], r: 5.5 },
  ],
  xMin: 5.2, xMax: 164.7, yMin: -1.49, yMax: 7.53, yStep: 1,
  isMajorY: (v) => Math.abs(v % 2) < 1e-9,
  height: 470, padTop: 1, yW: 68, xH: 47, xPad: 13, yPad: 15,
  xOut: 7, xIn: 11, yOutMaj: 11, yOutMin: 6, yInMaj: 10, yInMin: 6,
};

const BOTTOM: Panel = {
  obs: SI_OBS, diff: SI_DIFF,
  rows: [
    { pos: SI_HKL_1, y: SI_ROW_Y[0], r: 3.6 },
    { pos: SI_HKL_2, y: SI_ROW_Y[1], r: 3.6 },
    { pos: SI_HKL_3, y: SI_ROW_Y[2], r: 3.6 },
    { pos: SI_HKL_4, y: SI_ROW_Y[3], r: 3.6 },
  ],
  xMin: 4.8, xMax: 149.6, yMin: -0.95, yMax: 5.5, yStep: 0.5,
  isMajorY: (v) => Math.abs(v - Math.round(v)) < 1e-9,
  height: 484, padTop: 15, yW: 72, xH: 50, xPad: 13, yPad: 14,
  xOut: 6, xIn: 11, yOutMaj: 10, yOutMin: 5, yInMaj: 9, yInMin: 5,
};

const txt: React.CSSProperties = {
  position: 'absolute', fontFamily: FONT, fontSize: 15, color: '#000', whiteSpace: 'nowrap', lineHeight: '15px',
};
const sub: React.CSSProperties = { fontSize: 11, position: 'relative', top: 4 };

export default function App() {
  return (
    <div style={{ position: 'absolute', left: 0, top: 0, width: 640, height: 954, background: '#fff', overflow: 'hidden' }}>
      <PanelChart p={TOP} top={0} />
      <PanelChart p={BOTTOM} top={470} />
      <div style={{ ...txt, left: 528, top: 30, fontSize: 15.5 }}>
        Li<span style={sub}>4</span>Ge<span style={sub}>2</span>D
      </div>
      <div style={{ ...txt, left: 530, top: 514, fontSize: 15.5 }}>
        Li<span style={sub}>4</span>Si<span style={sub}>2</span>D
      </div>
      <div style={{ ...txt, left: 25, top: 189, transform: 'translate(-50%, -50%) rotate(-90deg)' }}>
        Neutron counts (× 1000)
      </div>
      <div style={{ ...txt, left: 33, top: 683, transform: 'translate(-50%, -50%) rotate(-90deg)' }}>
        Neutron counts (× 1000)
      </div>
      <div style={{ ...txt, left: 350, top: 941, transform: 'translate(-50%, -50%)' }}>
        2θ (°)
      </div>
    </div>
  );
}
